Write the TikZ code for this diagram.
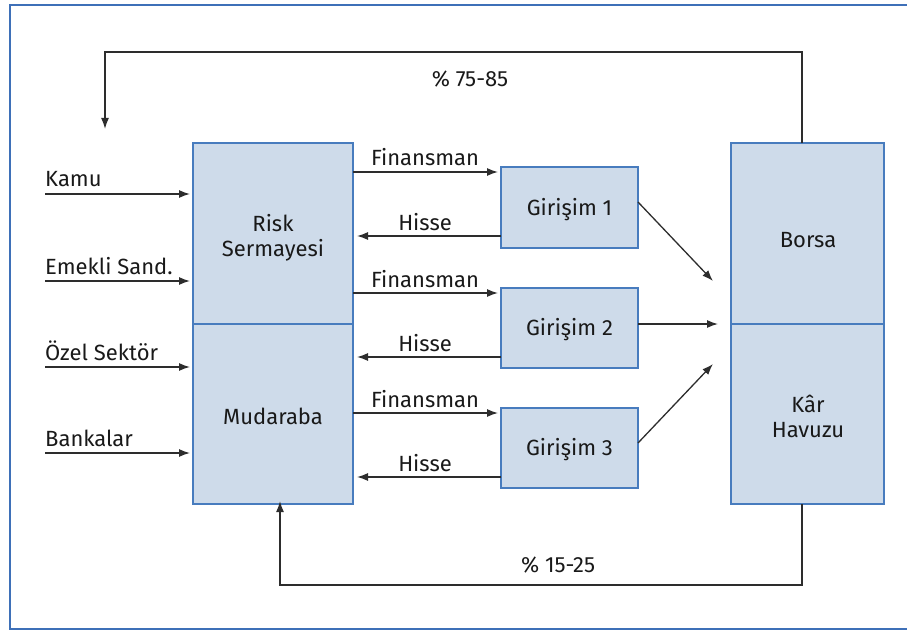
\documentclass[tikz,border=0pt]{standalone}
\usepackage{fontspec}
\setmainfont{Fira Sans}
\usetikzlibrary{arrows.meta}
\definecolor{boxfill}{RGB}{206,219,234}
\definecolor{boxline}{RGB}{72,124,190}
\definecolor{frameline}{RGB}{62,112,184}
\definecolor{conn}{RGB}{45,45,45}
\tikzset{
  blk/.style={draw=boxline, fill=boxfill, line width=1.4pt, inner sep=0pt, outer sep=0pt, anchor=north west},
  lbl/.style={inner sep=0pt, font=\fontsize{22}{25}\selectfont, text=black!90},
  ctr/.style={lbl, align=center},
  arr/.style={draw=conn, line width=1.3pt, -{Latex[length=11pt,width=8pt]}},
  ln/.style={draw=conn, line width=1.5pt},
}
\begin{document}
\begin{tikzpicture}[x=1pt,y=-1pt]
\useasboundingbox (0,0) rectangle (907,631);
% frame
\draw[frameline, line width=2pt] (907,5) -- (10,5) -- (10,629) -- (907,629);
% big boxes
\node[blk, minimum width=160pt, minimum height=181pt] (rs) at (193,143) {};
\node[blk, minimum width=160pt, minimum height=180pt] (md) at (193,324) {};
\node[blk, minimum width=153pt, minimum height=181pt] (bo) at (731,143) {};
\node[blk, minimum width=153pt, minimum height=180pt] (kh) at (731,324) {};
\node[ctr] (rst) at (273,238) {Risk\\Sermayesi};
\node[lbl] (mdt) at (273,416) {Mudaraba};
\node[lbl] (bot) at (808,240) {Borsa};
\node[ctr] (kht) at (808,416) {Kâr\\Havuzu};
% girisim boxes
\node[blk, minimum width=137pt, minimum height=81pt] (g1) at (501,167) {};
\node[blk, minimum width=137pt, minimum height=80pt] (g2) at (501,288) {};
\node[blk, minimum width=137pt, minimum height=80pt] (g3) at (501,408) {};
\node[lbl] at ([yshift=-2pt]g1.center) {Girişim 1};
\node[lbl] at ([yshift=-2pt]g2.center) {Girişim 2};
\node[lbl] at ([yshift=-2pt]g3.center) {Girişim 3};
% finansman / hisse
\foreach \g/\t in {g1/172,g2/293,g3/413}{
  \draw[arr] (rs.east |- 0,\t) -- ([xshift=-3pt]\g.west |- 0,\t);
  \node[lbl, anchor=base] at (425,\t-6) {Finansman};
}
\foreach \g/\t in {g1/236,g2/357,g3/477}{
  \draw[arr] (\g.west |- 0,\t) -- ([xshift=4pt]rs.east |- 0,\t);
  \node[lbl, anchor=base] at (425,\t-6) {Hisse};
}
% inputs
\coordinate (i1) at (45,194);
\coordinate (i2) at (45,281);
\coordinate (i3) at (45,367);
\coordinate (i4) at (45,453);
\draw[arr] (i1) -- ([xshift=-3pt]rs.west |- i1);
\draw[arr] (i2) -- ([xshift=-3pt]rs.west |- i2);
\draw[arr] (i3) -- ([xshift=-3pt]md.west |- i3);
\draw[arr] (i4) -- ([xshift=-3pt]md.west |- i4);
\node[lbl, anchor=base west] at (45,187) {Kamu};
\node[lbl, anchor=base west] at (45,274) {Emekli Sand.};
\node[lbl, anchor=base west] at (45,360) {Özel Sektör};
\node[lbl, anchor=base west] at (45,446) {Bankalar};
% to borsa
\coordinate (t1) at (713,281);
\coordinate (t2) at (718,324);
\coordinate (t3) at (713,364);
\draw[arr] (g1.east |- 0,202) -- (t1);
\draw[arr] (g2.east |- t2) -- (t2);
\draw[arr] (g3.east |- 0,443) -- (t3);
% feedback loops
\coordinate (tl) at (105,129);
\draw[ln, arrows={-Latex[length=11pt,width=8pt]}] (bo.north -| 802,0) -- (802,52) -- (105,52) -- (tl);
\node[lbl] at (470,79) {\% 75-85};
\draw[ln, arrows={-Latex[length=11pt,width=8pt]}] (kh.south -| 802,0) -- (802,585) -- (280,585) -- ([yshift=3pt]md.south -| 280,0);
\node[lbl] at (558,565) {\% 15-25};
\end{tikzpicture}
\end{document}
